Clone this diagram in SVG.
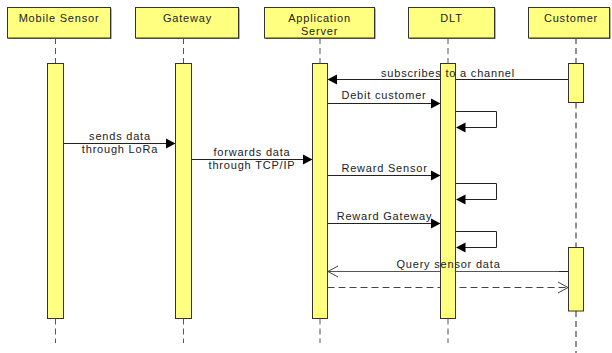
<svg xmlns="http://www.w3.org/2000/svg" width="612" height="353" viewBox="0 0 612 353">
<defs>
<style>
.box{fill:#FFFF80;stroke:#333;stroke-width:1}
.shadow{fill:#666}
.act{fill:#FFFF80;stroke:#333;stroke-width:1}
.life{stroke:#555;stroke-width:1;stroke-dasharray:6,4;fill:none}
.msg{stroke:#222;stroke-width:1;fill:none}
.ret{stroke:#444;stroke-width:1;fill:none;stroke-dasharray:7,4}
.head{fill:#000}
.open{stroke:#444;stroke-width:1;fill:none}
text{font-family:"Liberation Sans",Arial,sans-serif;font-size:11px;fill:#222;letter-spacing:0.8px;text-anchor:middle}
</style>
</defs>
<rect width="612" height="353" fill="#fff"/>

<g id="lifelines">
<path class="life" d="M55.5 38V63.5M55.5 318.5V343"/>
<path class="life" d="M183.5 38V63.5M183.5 318.5V343"/>
<path class="life" d="M320 38V63.5M320 318.5V343"/>
<path class="life" d="M448 38V63.5M448 318.5V343"/>
<path class="life" d="M576 38V63.5M576 102.5V247.5M576 311V353" style="stroke:#222"/>
</g>

<g id="connectors">
<line class="msg" x1="63.5" y1="143.5" x2="168" y2="143.5"/>
<polygon class="head" points="175.5,143.5 166,138.5 166,148.5"/>
<line class="msg" x1="191.5" y1="159.5" x2="305" y2="159.5"/>
<polygon class="head" points="312.5,159.5 303,154.5 303,164.5"/>
<line class="msg" x1="568.5" y1="79.5" x2="335" y2="79.5"/>
<polygon class="head" points="327.5,79.5 337,74.5 337,84.5"/>
<line class="msg" x1="327.5" y1="103.5" x2="433" y2="103.5"/>
<polygon class="head" points="440.5,103.5 431,98.5 431,108.5"/>
<path class="msg" d="M455.5 111.5H496.5V127.5H463"/>
<polygon class="head" points="456,127.5 465.5,122.5 465.5,132.5"/>
<line class="msg" x1="327.5" y1="175.5" x2="433" y2="175.5"/>
<polygon class="head" points="440.5,175.5 431,170.5 431,180.5"/>
<path class="msg" d="M455.5 183.5H496.5V199.5H463"/>
<polygon class="head" points="456,199.5 465.5,194.5 465.5,204.5"/>
<line class="msg" x1="327.5" y1="223.5" x2="433" y2="223.5"/>
<polygon class="head" points="440.5,223.5 431,218.5 431,228.5"/>
<path class="msg" d="M455.5 231.5H496.5V247.5H463"/>
<polygon class="head" points="456,247.5 465.5,242.5 465.5,252.5"/>
<line class="msg" x1="568.5" y1="271.5" x2="327.5" y2="271.5" style="stroke:#555"/>
<line class="msg" x1="559" y1="271.5" x2="568.5" y2="271.5"/>
<path class="open" d="M338 266L328 271.5L338 277"/>
<line class="ret" x1="327.5" y1="287.5" x2="568" y2="287.5"/>
<path class="open" d="M558 282L568 287.5L558 293"/>
</g>

<g id="mobile-sensor">
<rect class="shadow" x="8.5" y="8.5" width="103" height="30.5"/>
<rect class="box" x="7.5" y="7.5" width="103" height="30.5"/>
<text x="59" y="22">Mobile Sensor</text>
<rect class="act" x="47.5" y="63.5" width="16" height="255"/>
</g>

<g id="gateway">
<rect class="shadow" x="136.5" y="8.5" width="103" height="30.5"/>
<rect class="box" x="135.5" y="7.5" width="103" height="30.5"/>
<text x="187.5" y="22">Gateway</text>
<rect class="act" x="175.5" y="63.5" width="16" height="255"/>
</g>

<g id="application-server">
<rect class="shadow" x="265.5" y="8.5" width="110" height="30.5"/>
<rect class="box" x="264.5" y="7.5" width="110" height="30.5"/>
<text x="319.5" y="22">Application</text>
<text x="319.5" y="35">Server</text>
<rect class="act" x="312.5" y="63.5" width="15" height="255"/>
</g>

<g id="dlt">
<rect class="shadow" x="409.5" y="8.5" width="86" height="30.5"/>
<rect class="box" x="408.5" y="7.5" width="86" height="30.5"/>
<text x="451.5" y="22">DLT</text>
<rect class="act" x="440.5" y="63.5" width="15" height="255"/>
</g>

<g id="customer">
<rect class="shadow" x="529.5" y="8.5" width="81" height="30.5"/>
<rect class="box" x="528.5" y="7.5" width="81" height="30.5"/>
<text x="571" y="22">Customer</text>
<rect class="act" x="568.5" y="63.5" width="15" height="39"/>
<rect class="act" x="568.5" y="247.5" width="15" height="63.5"/>
</g>

<g id="labels">
<text x="120" y="140">sends data</text>
<text x="120" y="153">through LoRa</text>
<text x="252" y="156">forwards data</text>
<text x="252" y="168.5">through TCP/IP</text>
<text x="448" y="77">subscribes to a channel</text>
<text x="384" y="99">Debit customer</text>
<text x="384.5" y="172">Reward Sensor</text>
<text x="384.5" y="220">Reward Gateway</text>
<text x="448.5" y="268">Query sensor data</text>
</g>
</svg>
